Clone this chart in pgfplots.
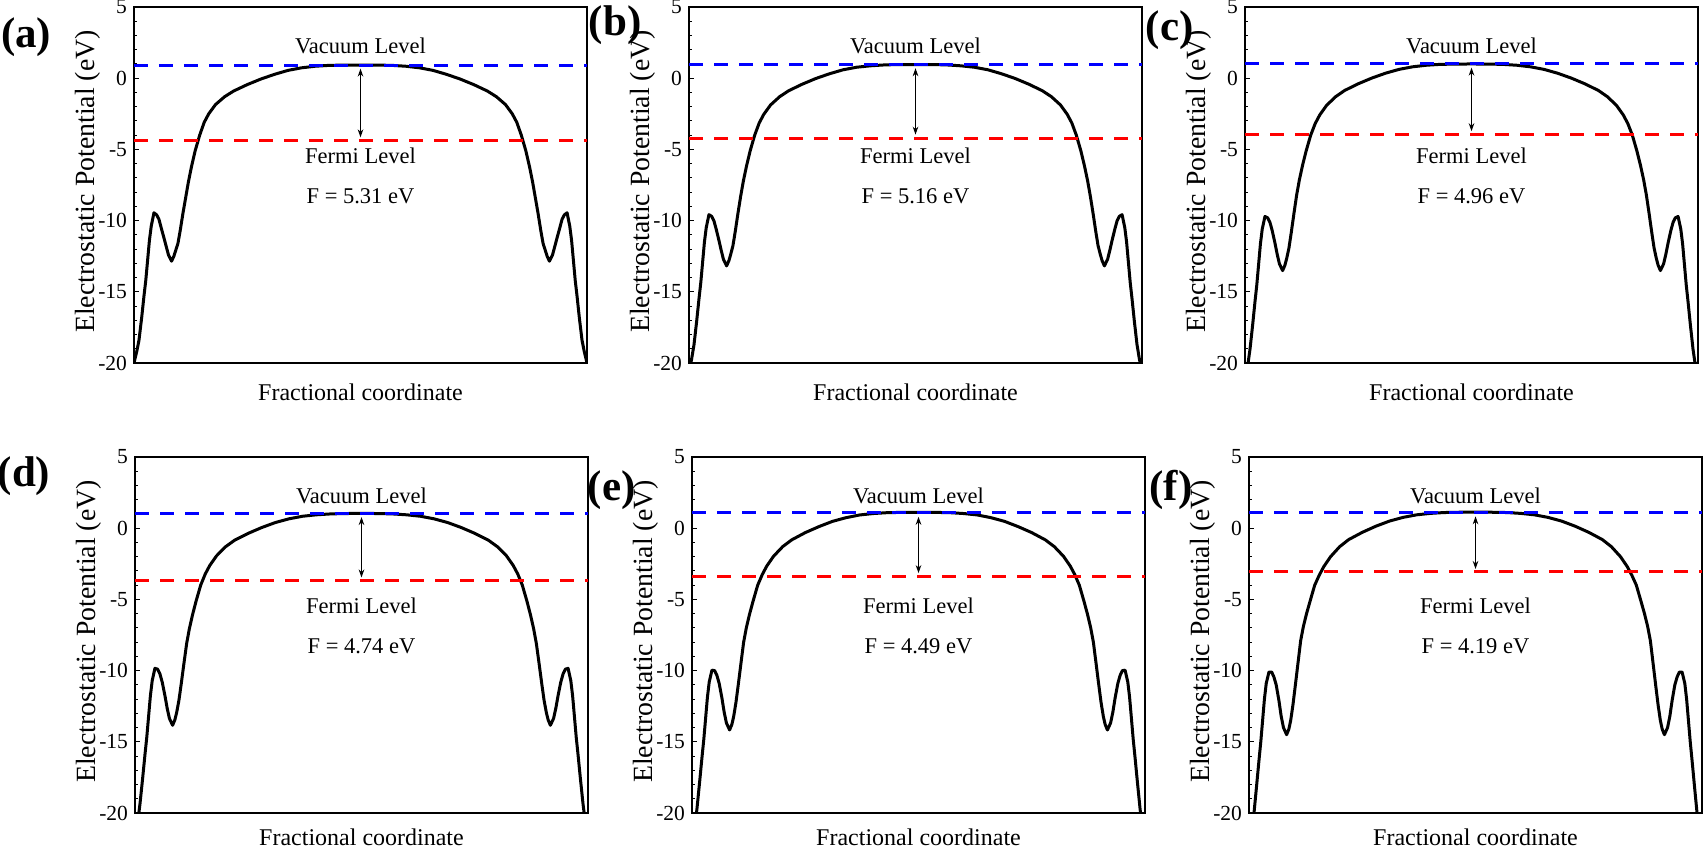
\documentclass[border=0pt]{standalone}
\usepackage{fontspec}
\setmainfont{Liberation Serif}
\usepackage{pgfplots}
\usepackage{pgfplotstable}
\pgfplotsset{compat=1.18}
\usetikzlibrary{arrows.meta}

\pgfplotstableread{
x a b c d e f
0 -20.0 -20.7 -21.4 -22.1 -22.8 -23.5
0.006 -19.2 -19.68 -20.16 -20.64 -21.12 -21.6
0.011 -18.4 -18.72 -19.04 -19.36 -19.68 -20.0
0.017 -16.8 -17.04 -17.28 -17.52 -17.76 -18.0
0.022 -15.3 -15.5 -15.7 -15.9 -16.1 -16.3
0.026 -14.2 -14.36 -14.52 -14.68 -14.84 -15.0
0.030 -12.8 -12.94 -13.08 -13.22 -13.36 -13.5
0.034 -11.4 -11.52 -11.64 -11.76 -11.88 -12.0
0.038 -10.4 -10.5 -10.6 -10.7 -10.8 -10.9
0.044 -9.45 -9.58 -9.71 -9.84 -9.97 -10.1
0.050 -9.6 -9.7 -9.8 -9.9 -10.0 -10.1
0.055 -9.9 -10.01 -10.12 -10.23 -10.34 -10.45
0.060 -10.5 -10.6 -10.7 -10.8 -10.9 -11.0
0.066 -11.2 -11.38 -11.56 -11.74 -11.92 -12.1
0.071 -11.8 -12.08 -12.36 -12.64 -12.92 -13.2
0.076 -12.4 -12.72 -13.04 -13.36 -13.68 -14.0
0.083 -12.85 -13.18 -13.51 -13.84 -14.17 -14.5
0.088 -12.5 -12.82 -13.14 -13.46 -13.78 -14.1
0.092 -12.1 -12.38 -12.66 -12.94 -13.22 -13.5
0.097 -11.6 -11.76 -11.92 -12.08 -12.24 -12.4
0.102 -10.7 -10.78 -10.86 -10.94 -11.02 -11.1
0.108 -9.5 -9.5 -9.5 -9.5 -9.5 -9.5
0.114 -8.4 -8.3 -8.2 -8.1 -8.0 -7.9
0.120 -7.3 -7.22 -7.14 -7.06 -6.98 -6.9
0.127 -6.2 -6.16 -6.12 -6.08 -6.04 -6.0
0.135 -5.1 -5.1 -5.1 -5.1 -5.1 -5.1
0.145 -4.0 -4.0 -4.0 -4.0 -4.0 -4.0
0.155 -3.1 -3.14 -3.18 -3.22 -3.26 -3.3
0.165 -2.5 -2.54 -2.58 -2.62 -2.66 -2.7
0.180 -1.85 -1.88 -1.91 -1.94 -1.97 -2.0
0.200 -1.3 -1.3 -1.3 -1.3 -1.3 -1.3
0.220 -0.9 -0.88 -0.86 -0.84 -0.82 -0.8
0.250 -0.45 -0.42 -0.39 -0.36 -0.31 -0.29
0.280 -0.06 -0.02 0.01 0.05 0.11 0.14
0.310 0.27 0.31 0.35 0.40 0.48 0.50
0.340 0.55 0.59 0.62 0.66 0.74 0.76
0.370 0.73 0.77 0.80 0.84 0.93 0.94
0.400 0.84 0.87 0.91 0.94 1.03 1.04
0.430 0.90 0.93 0.97 1.00 1.09 1.10
0.460 0.92 0.96 0.99 1.03 1.11 1.12
0.500 0.92 0.96 1.00 1.04 1.12 1.13
0.540 0.92 0.96 0.99 1.03 1.11 1.12
0.570 0.90 0.93 0.97 1.00 1.09 1.10
0.600 0.84 0.87 0.91 0.94 1.03 1.04
0.630 0.73 0.77 0.80 0.84 0.93 0.94
0.660 0.55 0.59 0.62 0.66 0.74 0.76
0.690 0.27 0.31 0.35 0.40 0.48 0.50
0.720 -0.06 -0.02 0.01 0.05 0.11 0.14
0.750 -0.45 -0.42 -0.39 -0.36 -0.31 -0.29
0.780 -0.9 -0.88 -0.86 -0.84 -0.82 -0.8
0.800 -1.3 -1.3 -1.3 -1.3 -1.3 -1.3
0.820 -1.85 -1.88 -1.91 -1.94 -1.97 -2.0
0.835 -2.5 -2.54 -2.58 -2.62 -2.66 -2.7
0.845 -3.1 -3.14 -3.18 -3.22 -3.26 -3.3
0.855 -4.0 -4.0 -4.0 -4.0 -4.0 -4.0
0.865 -5.1 -5.1 -5.1 -5.1 -5.1 -5.1
0.873 -6.2 -6.16 -6.12 -6.08 -6.04 -6.0
0.880 -7.3 -7.22 -7.14 -7.06 -6.98 -6.9
0.886 -8.4 -8.3 -8.2 -8.1 -8.0 -7.9
0.892 -9.5 -9.5 -9.5 -9.5 -9.5 -9.5
0.898 -10.7 -10.78 -10.86 -10.94 -11.02 -11.1
0.903 -11.6 -11.76 -11.92 -12.08 -12.24 -12.4
0.908 -12.1 -12.38 -12.66 -12.94 -13.22 -13.5
0.912 -12.5 -12.82 -13.14 -13.46 -13.78 -14.1
0.917 -12.85 -13.18 -13.51 -13.84 -14.17 -14.5
0.924 -12.4 -12.72 -13.04 -13.36 -13.68 -14.0
0.929 -11.8 -12.08 -12.36 -12.64 -12.92 -13.2
0.934 -11.2 -11.38 -11.56 -11.74 -11.92 -12.1
0.940 -10.5 -10.6 -10.7 -10.8 -10.9 -11.0
0.945 -9.9 -10.01 -10.12 -10.23 -10.34 -10.45
0.950 -9.6 -9.7 -9.8 -9.9 -10.0 -10.1
0.956 -9.45 -9.58 -9.71 -9.84 -9.97 -10.1
0.962 -10.4 -10.5 -10.6 -10.7 -10.8 -10.9
0.966 -11.4 -11.52 -11.64 -11.76 -11.88 -12.0
0.970 -12.8 -12.94 -13.08 -13.22 -13.36 -13.5
0.974 -14.2 -14.36 -14.52 -14.68 -14.84 -15.0
0.978 -15.3 -15.5 -15.7 -15.9 -16.1 -16.3
0.983 -16.8 -17.04 -17.28 -17.52 -17.76 -18.0
0.989 -18.4 -18.72 -19.04 -19.36 -19.68 -20.0
0.994 -19.2 -19.68 -20.16 -20.64 -21.12 -21.6
1.000 -20.0 -20.7 -21.4 -22.1 -22.8 -23.5
}\pot

\pgfplotsset{
  panel/.style={
    scale only axis, width=226.5pt, height=178pt,
    anchor=south west,
    xmin=0, xmax=1, ymin=-20, ymax=5,
    xtick=\empty,
    ytick={-20,-15,-10,-5,0,5},
    yticklabels={-20,-15,-10,-5,0,5},
    minor y tick num=4,
    ytick pos=left, tick align=inside,
    major tick length=2.5pt, minor tick length=1.5pt,
    every tick/.style={black, line width=0.5pt},
    axis line style={line width=0.9pt},
    tick label style={font=\fontsize{10.75}{12}\selectfont},
    xlabel={Fractional coordinate},
    every axis x label/.style={at={(axis description cs:0.5,-0.0815)}, anchor=center, font=\fontsize{12}{14}\selectfont},
    ylabel={Electrostatic Potential (eV)},
    every axis y label/.style={at={(axis description cs:-0.1027,0.51)}, rotate=90, anchor=center, font=\fontsize{13.9}{15}\selectfont},
    clip mode=individual,
  },
  lowrow/.style={
    every axis x label/.style={at={(axis description cs:0.5,-0.069)}, anchor=center, font=\fontsize{12}{14}\selectfont},
  },
  curve/.style={black, line width=1.5pt, line join=round},
  vac/.style={blue, line width=1.5pt, dash pattern=on 7pt off 5.5pt},
  fer/.style={red, line width=1.5pt, dash pattern=on 7pt off 5.5pt},
}
\tikzset{
  ann/.style={font=\fontsize{11.25}{13}\selectfont},
  plab/.style={font=\fontsize{21.5}{24}\bfseries\selectfont},
  gap/.style={line width=0.5pt, {Stealth[length=4pt,width=2.8pt]}-{Stealth[length=4pt,width=2.8pt]}},
}

\begin{document}
\begin{tikzpicture}
\useasboundingbox (0,0) rectangle (853pt,424pt);

% (a)
\begin{axis}[panel, at={(67pt,242.5pt)}]
\addplot[curve] table[x=x,y=a]{\pot};
\addplot[vac] coordinates {(0,0.92) (1,0.92)};
\addplot[fer] coordinates {(0,-4.39) (1,-4.39)};
\draw[gap] (axis cs:0.5,0.67) -- (axis cs:0.5,-4.15);
\node[ann] at (axis cs:0.5,2.3) {Vacuum Level};
\node[ann] at (axis cs:0.5,-5.42) {Fermi Level};
\node[ann] at (axis cs:0.5,-8.3) {F = 5.31 eV};
\node[plab] at (axis description cs:-0.238,0.916) {(a)};
\end{axis}

% (b)
\begin{axis}[panel, at={(344.5pt,242.5pt)}]
\addplot[curve] table[x=x,y=b]{\pot};
\addplot[vac] coordinates {(0,0.96) (1,0.96)};
\addplot[fer] coordinates {(0,-4.20) (1,-4.20)};
\draw[gap] (axis cs:0.5,0.70) -- (axis cs:0.5,-3.96);
\node[ann] at (axis cs:0.5,2.3) {Vacuum Level};
\node[ann] at (axis cs:0.5,-5.42) {Fermi Level};
\node[ann] at (axis cs:0.5,-8.3) {F = 5.16 eV};
\node[plab] at (axis description cs:-0.163,0.949) {(b)};
\end{axis}

% (c)
\begin{axis}[panel, at={(622.5pt,242.5pt)}]
\addplot[curve] table[x=x,y=c]{\pot};
\addplot[vac] coordinates {(0,1.0) (1,1.0)};
\addplot[fer] coordinates {(0,-3.96) (1,-3.96)};
\draw[gap] (axis cs:0.5,0.74) -- (axis cs:0.5,-3.72);
\node[ann] at (axis cs:0.5,2.3) {Vacuum Level};
\node[ann] at (axis cs:0.5,-5.42) {Fermi Level};
\node[ann] at (axis cs:0.5,-8.3) {F = 4.96 eV};
\node[plab] at (axis description cs:-0.166,0.935) {(c)};
\end{axis}

% (d)
\begin{axis}[panel, lowrow, at={(67.5pt,17.5pt)}]
\addplot[curve] table[x=x,y=d]{\pot};
\addplot[vac] coordinates {(0,1.04) (1,1.04)};
\addplot[fer] coordinates {(0,-3.70) (1,-3.70)};
\draw[gap] (axis cs:0.5,0.78) -- (axis cs:0.5,-3.46);
\node[ann] at (axis cs:0.5,2.3) {Vacuum Level};
\node[ann] at (axis cs:0.5,-5.42) {Fermi Level};
\node[ann] at (axis cs:0.5,-8.3) {F = 4.74 eV};
\node[plab] at (axis description cs:-0.245,0.947) {(d)};
\end{axis}

% (e)
\begin{axis}[panel, lowrow, at={(346pt,17.5pt)}]
\addplot[curve] table[x=x,y=e]{\pot};
\addplot[vac] coordinates {(0,1.12) (1,1.12)};
\addplot[fer] coordinates {(0,-3.37) (1,-3.37)};
\draw[gap] (axis cs:0.5,0.80) -- (axis cs:0.5,-3.15);
\node[ann] at (axis cs:0.5,2.3) {Vacuum Level};
\node[ann] at (axis cs:0.5,-5.42) {Fermi Level};
\node[ann] at (axis cs:0.5,-8.3) {F = 4.49 eV};
\node[plab] at (axis description cs:-0.177,0.907) {(e)};
\end{axis}

% (f)
\begin{axis}[panel, lowrow, at={(624.5pt,17.5pt)}]
\addplot[curve] table[x=x,y=f]{\pot};
\addplot[vac] coordinates {(0,1.13) (1,1.13)};
\addplot[fer] coordinates {(0,-3.06) (1,-3.06)};
\draw[gap] (axis cs:0.5,0.83) -- (axis cs:0.5,-2.86);
\node[ann] at (axis cs:0.5,2.3) {Vacuum Level};
\node[ann] at (axis cs:0.5,-5.42) {Fermi Level};
\node[ann] at (axis cs:0.5,-8.3) {F = 4.19 eV};
\node[plab] at (axis description cs:-0.172,0.907) {(f)};
\end{axis}
\end{tikzpicture}
\end{document}
